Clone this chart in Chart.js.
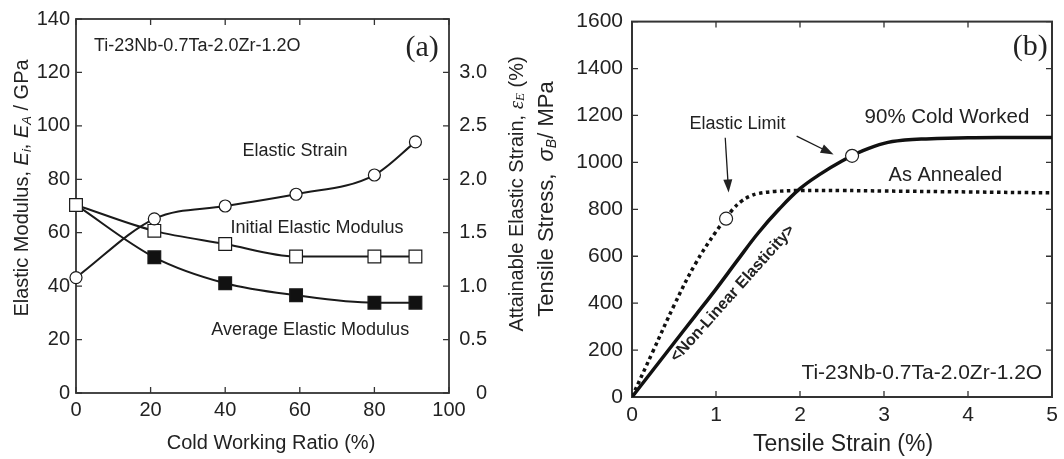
<!DOCTYPE html>
<html>
<head>
<meta charset="utf-8">
<script src="https://cdn.jsdelivr.net/npm/chart.js@4.4.0/dist/chart.umd.min.js"></script>
<style>
  body { margin: 0; background: #fff; }
  #wrap { position: relative; width: 1064px; height: 459px; }
  #wrap canvas { position: absolute; top: 0; }
</style>
</head>
<body>
<div id="wrap">
  <canvas id="chartA" width="530" height="459" style="left:0"></canvas>
  <canvas id="chartB" width="534" height="459" style="left:530px"></canvas>
</div>
<script>
// (a) properties vs cold working ratio
const coldRatio = [0, 21, 40, 59, 80, 91];                     // %
const elasticStrain = [1.08, 1.63, 1.75, 1.86, 2.04, 2.35];    // %
const initialModulus = [70.4, 60.7, 55.8, 51.1, 51.1, 51.1];   // GPa
const averageModulus = [70.4, 50.8, 41.1, 36.6, 33.8, 33.8];   // GPa
const strainTickLabels = ['0', '0.5', '1.0', '1.5', '2.0', '2.5', '3.0', ''];

// (b) tensile curves
const cold90Strain = [0, 0.25, 0.5, 0.75, 1.0, 1.25, 1.5, 1.75, 2.0, 2.25, 2.5, 2.75, 3.0, 3.25, 3.5, 4.0, 4.5, 5.0];
const cold90Stress = [0, 115, 230, 345, 460, 580, 698, 800, 888, 952, 1006, 1050, 1081, 1095, 1100, 1105, 1106, 1106];
const annealStrain = [0, 0.25, 0.5, 0.75, 1.0, 1.12, 1.2, 1.3, 1.4, 1.5, 1.7, 2.0, 2.5, 3.0, 4.0, 5.0];
const annealStress = [0, 195, 390, 565, 705, 760, 800, 834, 855, 867, 876, 880, 880, 878, 874, 870];
const limitStrain = [1.12, 2.62];
const limitStress = [760, 1028];

const INK = '#222';
const SANS = '"Liberation Sans", Arial, sans-serif';
const SERIF = '"Liberation Serif", "Times New Roman", serif';

const pts = (xs, ys) => xs.map((x, i) => ({ x: x, y: ys[i] }));

// frame, inward ticks, notes, arrows, titles
const decor = {
  id: 'decor',
  beforeDatasetsDraw(chart, args, o) {
    const ctx = chart.ctx, a = chart.chartArea, len = 6;
    ctx.save();
    ctx.strokeStyle = '#333';
    ctx.lineWidth = o.frameWidth || 1.8;
    ctx.strokeRect(a.left, a.top, a.right - a.left, a.bottom - a.top);
    ctx.lineWidth = 1.3;
    ctx.beginPath();
    const xs = chart.scales.x;
    xs.ticks.forEach(t => {
      const p = xs.getPixelForValue(t.value);
      ctx.moveTo(p, a.bottom); ctx.lineTo(p, a.bottom - len);
      ctx.moveTo(p, a.top); ctx.lineTo(p, a.top + len);
    });
    const yl = chart.scales[o.leftAxis], yr = chart.scales[o.rightAxis];
    yl.ticks.forEach(t => {
      const p = yl.getPixelForValue(t.value);
      ctx.moveTo(a.left, p); ctx.lineTo(a.left + len, p);
    });
    yr.ticks.forEach(t => {
      const p = yr.getPixelForValue(t.value);
      ctx.moveTo(a.right, p); ctx.lineTo(a.right - len, p);
    });
    ctx.stroke();
    // right-hand labels, right aligned like the original
    if (o.rightLabels) {
      ctx.fillStyle = INK;
      ctx.font = o.rightLabels.font;
      ctx.textAlign = 'right';
      ctx.textBaseline = 'middle';
      yr.ticks.forEach((t, i) => {
        ctx.fillText(o.rightLabels.labels[i] || '', a.right + o.rightLabels.offset, yr.getPixelForValue(t.value));
      });
    }
    ctx.restore();
  },
  afterDatasetsDraw(chart, args, o) {
    const ctx = chart.ctx, xs = chart.scales.x;
    ctx.save();
    ctx.fillStyle = INK;
    ctx.strokeStyle = '#1a1a1a';
    (o.notes || []).forEach(n => {
      const ys = chart.scales[n.axis || 'y'];
      ctx.save();
      ctx.translate(xs.getPixelForValue(n.x), ys.getPixelForValue(n.y));
      ctx.rotate((n.rot || 0) * Math.PI / 180);
      ctx.font = n.font;
      ctx.textAlign = 'center';
      ctx.textBaseline = 'middle';
      ctx.fillText(n.text, 0, 0);
      ctx.restore();
    });
    (o.arrows || []).forEach(ar => {
      const ys = chart.scales.y;
      const x1 = xs.getPixelForValue(ar.from[0]), y1 = ys.getPixelForValue(ar.from[1]);
      const x2 = xs.getPixelForValue(ar.to[0]), y2 = ys.getPixelForValue(ar.to[1]);
      const ang = Math.atan2(y2 - y1, x2 - x1);
      ctx.lineWidth = 1.3;
      ctx.beginPath();
      ctx.moveTo(x1, y1);
      ctx.lineTo(x2 - 10 * Math.cos(ang), y2 - 10 * Math.sin(ang));
      ctx.stroke();
      ctx.beginPath();
      ctx.moveTo(x2, y2);
      ctx.lineTo(x2 - 13 * Math.cos(ang) + 4.5 * Math.sin(ang), y2 - 13 * Math.sin(ang) - 4.5 * Math.cos(ang));
      ctx.lineTo(x2 - 13 * Math.cos(ang) - 4.5 * Math.sin(ang), y2 - 13 * Math.sin(ang) + 4.5 * Math.cos(ang));
      ctx.closePath();
      ctx.fill();
    });
    // axis titles with italic symbols / subscripts
    (o.titles || []).forEach(tt => {
      ctx.save();
      ctx.translate(tt.x, tt.y);
      ctx.rotate((tt.rot || 0) * Math.PI / 180);
      ctx.textBaseline = 'middle';
      ctx.textAlign = 'left';
      let total = 0;
      tt.parts.forEach(p => { ctx.font = p[1]; total += ctx.measureText(p[0]).width; });
      let cx = -total / 2;
      tt.parts.forEach(p => {
        ctx.font = p[1];
        ctx.fillText(p[0], cx, p[2] || 0);
        cx += ctx.measureText(p[0]).width;
      });
      ctx.restore();
    });
    ctx.restore();
  }
};

const lineBase = {
  borderColor: '#1a1a1a',
  pointBorderColor: '#1a1a1a',
  pointBorderWidth: 1.2,
  cubicInterpolationMode: 'monotone',
  borderWidth: 2,
  clip: false
};

new Chart(document.getElementById('chartA'), {
  type: 'line',
  data: {
    datasets: [
      Object.assign({}, lineBase, {
        label: 'Elastic Strain', yAxisID: 'y2',
        data: pts(coldRatio, elasticStrain),
        pointStyle: 'circle', pointRadius: 6, pointBackgroundColor: '#fff'
      }),
      Object.assign({}, lineBase, {
        label: 'Initial Elastic Modulus', yAxisID: 'y',
        data: pts(coldRatio, initialModulus),
        pointStyle: 'rect', pointRadius: 9, pointBackgroundColor: '#fff'
      }),
      Object.assign({}, lineBase, {
        label: 'Average Elastic Modulus', yAxisID: 'y',
        data: pts(coldRatio, averageModulus),
        pointStyle: 'rect', pointRadius: [0, 9, 9, 9, 9, 9], pointBackgroundColor: '#111'
      })
    ]
  },
  options: {
    responsive: false,
    animation: false,
    layout: { padding: { top: 19, right: 0, left: 0, bottom: 0 } },
    plugins: {
      legend: { display: false },
      tooltip: { enabled: false },
      decor: {
        leftAxis: 'y', rightAxis: 'y2',
        rightLabels: { labels: strainTickLabels, offset: 38, font: '20px ' + SANS },
        notes: [
          { text: 'Ti-23Nb-0.7Ta-2.0Zr-1.2O', x: 32.5, y: 130, font: '18px ' + SANS },
          { text: '(a)', x: 92.8, y: 129, font: '30px ' + SERIF },
          { text: 'Elastic Strain', x: 58.7, y: 90.4, font: '18px ' + SANS },
          { text: 'Initial Elastic Modulus', x: 64.6, y: 61.9, font: '18px ' + SANS },
          { text: 'Average Elastic Modulus', x: 62.8, y: 23.5, font: '18px ' + SANS }
        ],
        titles: [
          { x: 22, y: 188, rot: -90, parts: [
            ['Elastic Modulus, ', '20px ' + SANS],
            ['E', 'italic 20px ' + SANS],
            ['i', 'italic 13px ' + SANS, 5],
            [', ', '20px ' + SANS],
            ['E', 'italic 20px ' + SANS],
            ['A', 'italic 13px ' + SANS, 5],
            [' / GPa', '20px ' + SANS]
          ] },
          { x: 517, y: 194, rot: -90, parts: [
            ['Attainable Elastic Strain, ', '20px ' + SANS],
            ['\u03B5', 'italic 21px ' + SERIF],
            ['E', 'italic 13px ' + SERIF, 4],
            [' (%)', '20px ' + SANS]
          ] },
          { x: 271, y: 443, parts: [['Cold Working Ratio (%)', '20px ' + SANS]] }
        ]
      }
    },
    scales: {
      x: {
        type: 'linear', min: 0, max: 100,
        grid: { display: false, drawTicks: false }, border: { display: false },
        ticks: { stepSize: 20, padding: 5, color: INK, font: { family: SANS, size: 20 }, maxRotation: 0, autoSkip: false },
        afterFit: s => { s.height = 66; }
      },
      y: {
        position: 'left', min: 0, max: 140,
        grid: { display: false, drawTicks: false }, border: { display: false },
        ticks: { stepSize: 20, padding: 6, color: INK, font: { family: SANS, size: 20 } },
        afterFit: s => { s.width = 76; }
      },
      y2: {
        position: 'right', min: 0, max: 3.5,
        grid: { display: false, drawTicks: false }, border: { display: false },
        ticks: { stepSize: 0.5, display: false },
        afterFit: s => { s.width = 81; }
      }
    }
  },
  plugins: [decor]
});

new Chart(document.getElementById('chartB'), {
  type: 'line',
  data: {
    datasets: [
      {
        label: 'Elastic Limit', data: pts(limitStrain, limitStress),
        showLine: false, pointStyle: 'circle', pointRadius: 6.5,
        pointBackgroundColor: '#fff', pointBorderColor: '#222', pointBorderWidth: 1.2
      },
      {
        label: '90% Cold Worked', data: pts(cold90Strain, cold90Stress),
        borderColor: '#111', borderWidth: 3.5, pointRadius: 0, tension: 0.4
      },
      {
        label: 'As Annealed', data: pts(annealStrain, annealStress),
        borderColor: '#111', borderWidth: 3.5, borderDash: [3.5, 3.5], pointRadius: 0, tension: 0.4
      }
    ]
  },
  options: {
    responsive: false,
    animation: false,
    layout: { padding: { top: 19, right: 12, left: 0, bottom: 0 } },
    plugins: {
      legend: { display: false },
      tooltip: { enabled: false },
      decor: {
        leftAxis: 'y', rightAxis: 'y', frameWidth: 2,
        notes: [
          { text: '(b)', x: 4.74, y: 1490, font: '30px ' + SERIF },
          { text: '90% Cold Worked', x: 3.75, y: 1194, font: '20.5px ' + SANS },
          { text: 'As Annealed', x: 3.73, y: 942, font: '20px ' + SANS },
          { text: 'Elastic Limit', x: 1.256, y: 1165, font: '18px ' + SANS },
          { text: 'Ti-23Nb-0.7Ta-2.0Zr-1.2O', x: 3.45, y: 103, font: '21px ' + SANS },
          { text: '<Non-Linear Elasticity>', x: 1.2, y: 441, rot: -48.2, font: 'bold 16px ' + SANS }
        ],
        arrows: [
          { from: [1.11, 1105], to: [1.15, 872] },
          { from: [1.96, 1112], to: [2.40, 1034] }
        ],
        titles: [
          { x: 17, y: 199, rot: -90, parts: [
            ['Tensile Stress,  ', '22px ' + SANS],
            ['\u03C3', 'italic 22px ' + SANS],
            ['B', 'italic 14px ' + SANS, 5],
            ['/ MPa', '22px ' + SANS]
          ] },
          { x: 313, y: 445, parts: [['Tensile Strain (%)', '23px ' + SANS]] }
        ]
      }
    },
    scales: {
      x: {
        type: 'linear', min: 0, max: 5,
        grid: { display: false, drawTicks: false }, border: { display: false },
        ticks: { stepSize: 1, padding: 6, color: INK, font: { family: SANS, size: 21 }, maxRotation: 0, autoSkip: false },
        afterFit: s => { s.height = 62; }
      },
      y: {
        position: 'left', min: 0, max: 1600,
        grid: { display: false, drawTicks: false }, border: { display: false },
        ticks: { stepSize: 200, padding: 9, color: INK, font: { family: SANS, size: 21 }, callback: v => String(v) },
        afterFit: s => { s.width = 102; }
      }
    }
  },
  plugins: [decor]
});
</script>
</body>
</html>
